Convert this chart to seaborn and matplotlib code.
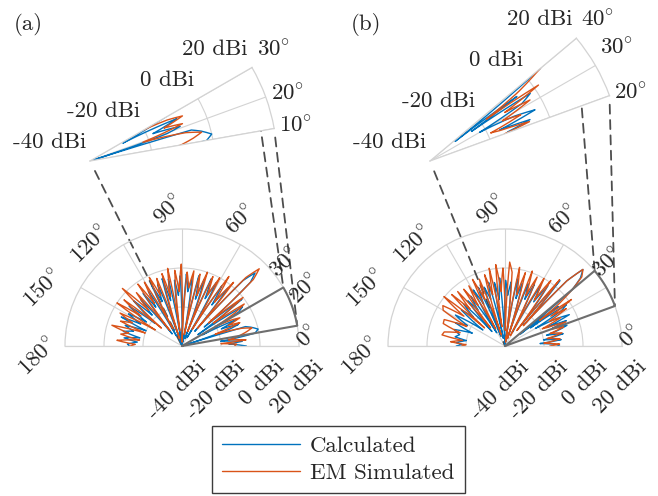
import numpy as np
import matplotlib
matplotlib.use("Agg")
import matplotlib.pyplot as plt
from matplotlib.patches import ConnectionPatch
import seaborn as sns

# pattern cuts: angle (deg), gain (dBi)
a_calc_deg = [0, 2.5, 4.5, 7, 10, 12.5, 15, 17, 17.8, 19.5, 21, 23.5, 26, 28.5, 31, 33, 35.5, 38, 40.5, 43,
              45, 47, 49, 51.5, 54, 56.5, 59, 61.5, 64, 66.5, 69, 71.5, 74, 76.5, 79, 81.5, 84, 86.5, 89, 91.5,
              94, 96.5, 99, 101.5, 104, 106.5, 109, 111.5, 114, 116.5, 119, 121.5, 124, 126.5, 129, 131.5, 134, 137, 140, 143,
              146, 149, 152, 154.5, 157, 160, 163, 166, 169, 172, 175, 178, 180]
a_calc_dbi = [-7, -16, -9, -20, -2, 0, -3, -6, -40, -14, -9, -18, -9, -28, -6, -3, -30, -1, -25, 8,
              13, 6, -30, -2, -14, -3, -35, -3, -13, -2.5, -36, -4, -15, -3, -38, -5, -12, -3, -40, -4,
              -14, -6, -38, -5, -16, -4, -40, -6, -15, -5.5, -34, -7, -16, -6.5, -32, -8, -18, -6, -22, -6,
              -18, -8, -16, -5.5, -20, -9, -14, -9, -18, -10, -17, -12, -13]

a_em_deg = [0, 2, 3.5, 5.5, 7.5, 9, 10.5, 12.5, 14.5, 16.5, 19.5, 22, 24, 26, 28, 30, 32, 34, 36, 38.5,
            41, 43, 45, 47, 49, 51, 53.5, 56, 58.5, 61, 63.5, 66, 68.5, 71, 73.5, 76, 78.5, 81, 83.5, 86,
            88.5, 90.5, 93, 95.5, 98, 100.5, 103, 105.5, 108, 110.5, 113, 115.5, 118, 120.5, 123, 125.5, 128, 130.5, 133, 136,
            139, 141.5, 144, 146.5, 149, 152, 155, 158, 160.5, 163.5, 166.5, 169, 172, 175, 178, 180]
a_em_dbi = [-13, -12, -20, -7, -16, -12, -9.5, -6, -3, -8, -22, -8, -14, -7, -12, -20, -8, -1.5, -20, 0,
            -22, 10, 16, 8, -28, 2, -12, 3, -30, 0, -11, -1, -32, 0, -13, -2, -34, -1, -10, -2,
            -38, 2, -12, -1, -32, 0.5, -14, -1.5, -36, -3, -12, -1, -30, -2, -14, -1, -30, -4, -15, 2.5,
            -26, -2, -14, 0, -24, -4, -12, -6, -20, -2.5, -12, -8, -18, -6.5, -16, -13.5]

b_calc_deg = [0, 2, 4, 6.5, 9, 12, 14.5, 17, 18.5, 20.5, 22.5, 24, 26, 28, 30, 32, 34, 35.5, 36.6, 38,
              40, 42, 44.5, 46.5, 48, 50, 52, 54.5, 57, 59.5, 62, 64.5, 67, 69.5, 72, 74.5, 77, 79.5, 82, 84.5,
              87, 89.5, 92, 94.5, 97, 99.5, 102, 104.5, 107, 109.5, 112, 114.5, 117, 119.5, 122, 124.5, 127, 129.5, 132, 134.5,
              137.5, 140.5, 144, 148, 151.5, 155, 158.5, 162, 166, 169.5, 172, 176, 178, 180]
b_calc_dbi = [-12, -14, -22, -11, -20, -9.5, -18, -10, -6.5, -14, -6, -16, -3.3, -10, -22, -6, -2, -24, -6, -30,
              5, 12, 16, 6, -24, 3.8, -26, -2, -13, -4, -32, -5, -14, -6, -36, -6.7, -15, -5, -38, -7,
              -14, -6.3, -40, -5, -16, -7, -36, -6.3, -15, -8, -34, -7, -16, -7, -32, -9, -17, -10, -30, -9.6,
              -18, -11, -26, -10, -18, -12, -22, -12.6, -16, -14, -20, -15, -18, -15]

b_em_deg = [0, 2, 4, 7.5, 10, 13, 15.5, 18, 20, 21.6, 23.5, 24.8, 27, 29, 31.4, 33, 35, 36.5, 38, 40,
            42, 44.5, 46.5, 48, 50.5, 52.5, 55, 57.5, 60, 62.5, 65, 67.5, 70, 72, 74.5, 77, 79.5, 82, 84.5, 86.8,
            89, 91.5, 94, 96.5, 99, 101.5, 103.5, 106, 108.5, 111, 113.5, 116, 118.5, 121, 123.5, 126, 128.5, 131, 133.5, 136,
            138.5, 141, 144, 147, 150, 153, 156.5, 160, 163.5, 167, 170, 172.5, 175.5, 178, 180]
b_em_dbi = [-17, -12, -20, -11.5, -18, -10, -16, -8.5, -15, -6.4, -16, -19, -8, -14, -3.2, -12, 1.6, -18, -5, 5,
            13, 16, 6, -26, 4, -30, 1, -12, 0, -34, -1, -12, 0.9, -36, -1, -13, 1, -38, -2, 3.1,
            -32, 0, -12, 2, -30, 0.7, -13, -2, -34, -3.3, -14, -2, -30, -4, -15, -4, -28, -3, -14, -2,
            -26, 0.3, -14, -2, -3.4, -18, -6, -6.3, -16, -8, -7.2, -18, -12, -20, -17.8]

ring_vals = [-40, -20, 0, 20]
ring_labels = ["-40 dBi", "-20 dBi", "0 dBi", "20 dBi"]
main_ticks_a = [0, 20, 30, 60, 90, 120, 150, 180]
main_ticks_b = [0, 30, 60, 90, 120, 150, 180]
zoom_a = (10, 30)
zoom_b = (20, 40)

calc_color = "#0072BD"
em_color = "#D95319"
grid_color = "#d3d3d3"
rmin, rmax = -40, 20

sns.set_style("white")
plt.rcParams["font.family"] = ["cmr10", "DejaVu Serif"]
plt.rcParams["mathtext.fontset"] = "cm"
plt.rcParams["axes.unicode_minus"] = False
plt.rcParams["font.size"] = 16.5

W, H = 658, 496
fig = plt.figure(figsize=(W / 100, H / 100), dpi=100)

# where the labels of the half-circle angles sit (angle deg, radius px)
theta_lbl_pos = {0: (4.3, 126), 20: (25, 136), 30: (39, 133), 60: (65, 140), 90: (95.3, 137.5),
                 120: (132, 137), 150: (157.5, 150), 180: (184.3, 144)}


def polar_axes(cx, cy, R, lo, hi):
    # matplotlib fits the wedge into a square box, so work that box out
    t = np.deg2rad(np.linspace(lo, hi, 181))
    xs = np.r_[0, np.cos(t)]
    ys = np.r_[0, np.sin(t)]
    side = max(np.ptp(xs), np.ptp(ys))
    left = cx + ((xs.min() + xs.max()) / 2 - side / 2) * R
    bottom = (H - cy) + ((ys.min() + ys.max()) / 2 - side / 2) * R
    return fig.add_axes([left / W, bottom / H, side * R / W, side * R / H], projection="polar")


def curves(ax, calc_deg, calc_dbi, em_deg, em_dbi):
    sns.lineplot(x=np.deg2rad(calc_deg), y=calc_dbi, ax=ax, sort=False, estimator=None,
                 color=calc_color, lw=1.0, label="Calculated")
    sns.lineplot(x=np.deg2rad(em_deg), y=em_dbi, ax=ax, sort=False, estimator=None,
                 color=em_color, lw=1.0, label="EM Simulated")
    ax.get_legend().remove()
    # draw segments as curves in polar space (gain varies along the angle)
    for ln in ax.lines:
        ln.get_path()._interpolation_steps = 16


def style(ax, lo, hi, thetas):
    ax.set_thetamin(lo)
    ax.set_thetamax(hi)
    ax.set_rlim(rmin, rmax)
    ax.set_xticks(np.deg2rad(thetas))
    ax.set_xticklabels([])
    ax.set_yticks([-20, 0])
    ax.set_yticklabels([])
    ax.grid(True, color=grid_color, lw=0.8)
    ax.tick_params(length=0)
    for s in ax.spines.values():
        s.set_color(grid_color)
        s.set_linewidth(0.9)
    ax.set_xlabel("")
    ax.set_ylabel("")
    ax.set_autoscale_on(False)


def panel(tag, cx, ix, iR, zoom, ticks, calc_deg, calc_dbi, em_deg, em_dbi):
    R, cy, iy = 117, 346, 161
    lo, hi = zoom

    # full half-plane cut
    ax = polar_axes(cx, cy, R, 0, 180)
    curves(ax, calc_deg, calc_dbi, em_deg, em_dbi)
    tt = np.deg2rad(np.linspace(lo, hi, 40))
    ax.plot(np.r_[tt[0], tt, tt[-1]], np.r_[rmin, np.full(40, rmax), rmin],
            color="#6e6e6e", lw=1.5, clip_on=False, zorder=3)
    style(ax, 0, 180, [0, 30, 60, 90, 120, 150, 180])
    for t in ticks:
        ang, rp = theta_lbl_pos[t]
        ax.text(np.deg2rad(ang), rmin + rp / R * (rmax - rmin), rf"${t}^{{\circ}}$",
                rotation=45, ha="center", va="center", clip_on=False)
    for r, lbl in zip(ring_vals, ring_labels):
        ax.annotate(lbl, xy=(0, r), xytext=(14, -11), textcoords="offset pixels",
                    rotation=45, rotation_mode="anchor", ha="right", va="top",
                    annotation_clip=False)

    # zoomed wedge
    ins = polar_axes(ix, iy, iR, lo, hi)
    curves(ins, calc_deg, calc_dbi, em_deg, em_dbi)
    style(ins, lo, hi, [lo, (lo + hi) / 2, hi])
    for r, lbl in zip(ring_vals, ring_labels):
        ins.annotate(lbl, xy=(np.deg2rad(hi), r), xytext=(-4, 18.5), textcoords="offset pixels",
                     ha="right", va="center", annotation_clip=False)
    for t in [lo, (lo + hi) // 2, hi]:
        ins.annotate(rf"${t}^{{\circ}}$", xy=(np.deg2rad(t), rmax),
                     xytext=(5, 18.5 if t >= 30 else 3.5), textcoords="offset pixels",
                     ha="left", va="center", annotation_clip=False)

    # dashed guides between the wedge and the zoom
    for t, r, shrink in [(hi, rmax, 6.5), (lo, rmax, 6.5), (lo, rmin, 8)]:
        con = ConnectionPatch(xyA=(np.deg2rad(t), r), coordsA=ins.transData,
                              xyB=(np.deg2rad(t), r), coordsB=ax.transData,
                              linestyle=(0, (5, 3.5)), color="#4d4d4d", lw=1.3,
                              shrinkA=shrink, shrinkB=0, zorder=1.6)
        ax.add_artist(con)
        con.set_clip_on(False)

    fig.text(cx - 154 if tag == "(a)" else cx - 139, H - 25, tag, transform=None,
             ha="center", va="center")
    return ax


ax_a = panel("(a)", 182, 90, 187, zoom_a, main_ticks_a, a_calc_deg, a_calc_dbi, a_em_deg, a_em_dbi)
ax_b = panel("(b)", 505, 430, 191, zoom_b, main_ticks_b, b_calc_deg, b_calc_dbi, b_em_deg, b_em_dbi)

handles, labels = ax_a.get_legend_handles_labels()
leg = fig.legend(handles[:2], labels[:2], loc="upper left",
                 bbox_to_anchor=(211.7 / W, 1 - 425.7 / H), borderaxespad=0,
                 frameon=True, fancybox=False, edgecolor="#3c3c3c", framealpha=1,
                 borderpad=0.45, labelspacing=0.3, handlelength=3.4, handletextpad=0.45)
leg.get_frame().set_linewidth(1.0)

fig.savefig("out.png", dpi=100)
